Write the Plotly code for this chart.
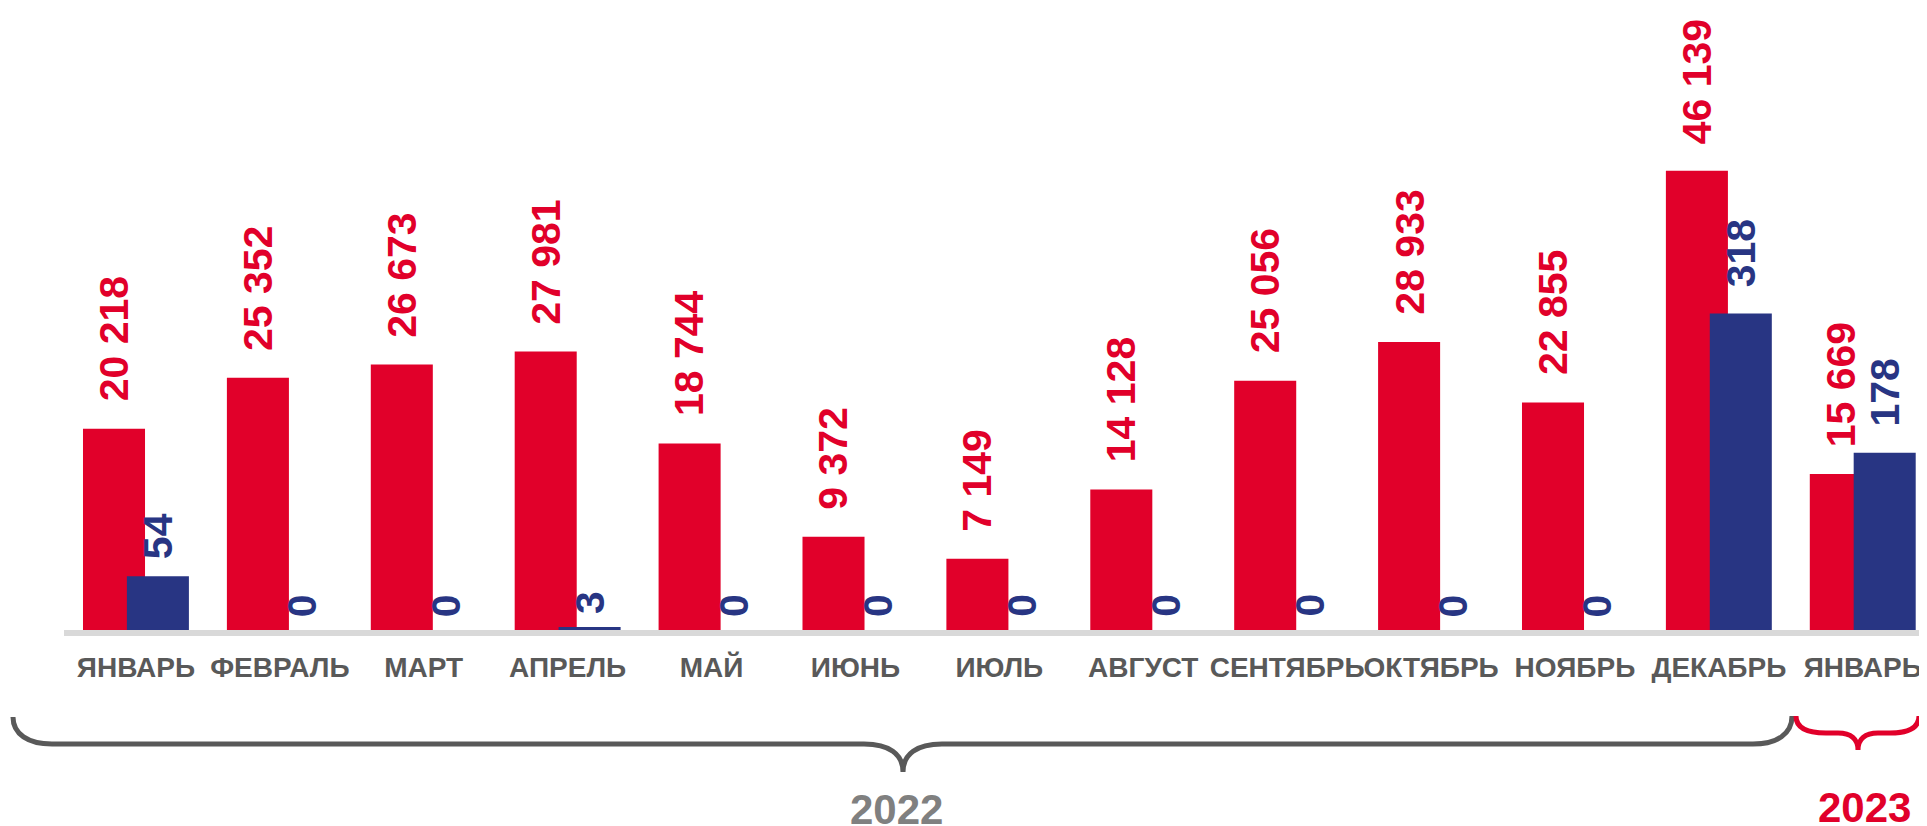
import plotly.graph_objects as go

months = ["ЯНВАРЬ", "ФЕВРАЛЬ", "МАРТ", "АПРЕЛЬ", "МАЙ", "ИЮНЬ", "ИЮЛЬ",
          "АВГУСТ", "СЕНТЯБРЬ", "ОКТЯБРЬ", "НОЯБРЬ", "ДЕКАБРЬ", "ЯНВАРЬ"]
red_values = [20218, 25352, 26673, 27981, 18744, 9372, 7149, 14128, 25056, 28933, 22855, 46139, 15669]
blue_values = [54, 0, 0, 3, 0, 0, 0, 0, 0, 0, 0, 318, 178]
years = ["2022", "2023"]

RED = "#E1002A"
BLUE = "#283583"
GRAY = "#595959"
YEAR_GRAY = "#808080"
FONT = "Liberation Sans"

OFF = 8  # page body margin
W, H = 1919, 818
ML, MR, MT, MB = 56, 0, 2, 196
PW, PH = W - ML - MR, H - MT - MB

idx = list(range(len(months)))
BW = 0.431
RED_OFF = -0.368
BLUE_OFF = -0.063

fig = go.Figure()
fig.add_trace(go.Bar(x=idx, y=red_values, marker=dict(color=RED, line=dict(width=0)),
                     width=BW, offset=RED_OFF, yaxis="y", hoverinfo="skip"))
fig.add_trace(go.Bar(x=idx, y=blue_values, marker=dict(color=BLUE, line=dict(width=0)),
                     width=BW, offset=BLUE_OFF, yaxis="y2", hoverinfo="skip"))


def fmt(v):
    return f"{v:,}".replace(",", " ")


annotations = []
for i, v in zip(idx, red_values):
    annotations.append(dict(x=i + RED_OFF + BW / 2, y=v, xref="x", yref="y", text=fmt(v),
                            textangle=-90, showarrow=False, xanchor="center", yanchor="bottom",
                            yshift=25, font=dict(family=FONT, size=41, color=RED, weight="bold")))
for i, v in zip(idx, blue_values):
    gap = 24 if v >= 100 else (15 if v >= 10 else 11)
    annotations.append(dict(x=i + BLUE_OFF + BW / 2, y=v, xref="x", yref="y2", text=fmt(v),
                            textangle=-90, showarrow=False, xanchor="center", yanchor="bottom",
                            yshift=gap, font=dict(family=FONT, size=41, color=BLUE, weight="bold")))


def px(x):
    return (x - OFF - ML) / PW


def py(y):
    return (MT + PH - (y - OFF)) / PH


def path(points_cmds):
    out = []
    for cmd, pts in points_cmds:
        coords = " ".join(f"{px(a):.5f},{py(b):.5f}" for a, b in pts)
        out.append(f"{cmd}{coords}")
    return " ".join(out)


gray_brace = path([
    ("M", [(13, 717)]),
    ("C", [(13, 734), (28, 744), (52, 744)]),
    ("L", [(864, 744)]),
    ("C", [(889, 744), (903, 754), (903, 772)]),
    ("M", [(903, 772)]),
    ("C", [(903, 754), (917, 744), (942, 744)]),
    ("L", [(1753, 744)]),
    ("C", [(1777, 744), (1792, 734), (1792, 716)]),
])
red_brace = path([
    ("M", [(1796, 716)]),
    ("C", [(1796, 727), (1806, 733), (1826, 733)]),
    ("L", [(1838, 733)]),
    ("C", [(1851, 733), (1858, 739), (1858, 750)]),
    ("M", [(1858, 750)]),
    ("C", [(1858, 739), (1865, 733), (1878, 733)]),
    ("L", [(1890, 733)]),
    ("C", [(1910, 733), (1919, 727), (1919, 716)]),
])

shapes = [
    dict(type="path", xref="paper", yref="paper", path=gray_brace,
         line=dict(color=GRAY, width=5)),
    dict(type="path", xref="paper", yref="paper", path=red_brace,
         line=dict(color=RED, width=5)),
]

annotations.append(dict(x=px(896), y=py(784), xref="paper", yref="paper", text=years[0],
                        showarrow=False, xanchor="center", yanchor="top",
                        font=dict(family=FONT, size=42, color=YEAR_GRAY, weight="bold")))
annotations.append(dict(x=px(1864), y=py(782), xref="paper", yref="paper", text=years[1],
                        showarrow=False, xanchor="center", yanchor="top",
                        font=dict(family=FONT, size=42, color=RED, weight="bold")))

red_max = 62300
fig.update_layout(
    width=W, height=H,
    margin=dict(l=ML, r=MR, t=MT, b=MB),
    paper_bgcolor="white", plot_bgcolor="white",
    barmode="overlay", showlegend=False,
    xaxis=dict(range=[-0.5, -0.5 + PW / 143.9], tickvals=idx, ticktext=months, tickangle=0,
               showgrid=False, zeroline=False, showline=True, linecolor="#D9D9D9", linewidth=6,
               ticks="outside", ticklen=7, tickcolor="rgba(0,0,0,0)",
               tickfont=dict(family=FONT, size=28, color=GRAY, weight="bold")),
    yaxis=dict(range=[0, red_max], visible=False, showgrid=False, zeroline=False),
    yaxis2=dict(range=[0, red_max / 100], overlaying="y", visible=False, showgrid=False,
                zeroline=False),
    annotations=annotations,
    shapes=shapes,
)

fig.write_html("out.html")
